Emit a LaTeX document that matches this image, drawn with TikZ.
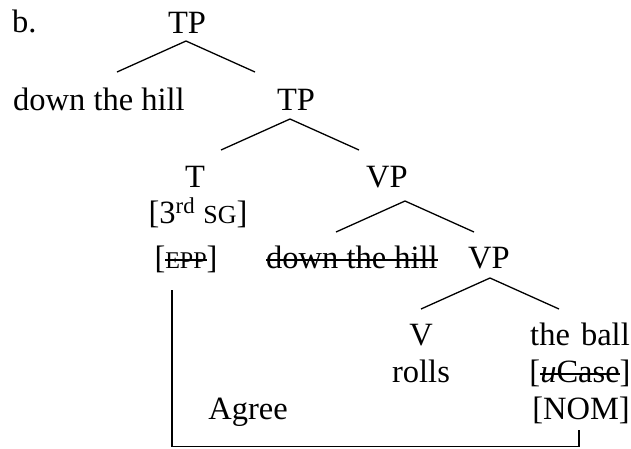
\documentclass[tikz,border=0pt]{standalone}
\usepackage{fontspec}
\setmainfont{Liberation Serif}
\newsavebox\strkbox
\newcommand{\strk}[1]{\sbox\strkbox{#1}\rlap{\rule[7.5pt]{\wd\strkbox}{1.5pt}}\usebox\strkbox}
\newcommand{\smc}[2][24]{{\fontsize{#1}{#1}\selectfont #2}}
\begin{document}
\begin{tikzpicture}[x=1pt,y=-1pt,
  lbl/.style={inner sep=0pt,anchor=base,font=\fontsize{32.5}{38}\selectfont},
  br/.style={line width=1.3pt}]
\useasboundingbox (0,0) rectangle (631,448);
% labels
\node[lbl,anchor=base west] (b) at (12,32) {b.};
\node[lbl] (tp1) at (187,33) {TP};
\node[lbl] (dth1) at (99,110) {down the hill};
\node[lbl] (tp2) at (296,110) {TP};
\node[lbl] (t) at (195,187) {T};
\node[lbl] (vp2) at (387,187) {VP};
\node[lbl] (sg) at (198,223) {[3\textsuperscript{rd} \smc[26]{SG}]};
\node[lbl] (epp) at (186,268) {[\strk{\smc{EPP}}]};
\node[lbl] (dth2) at (352,268) {\strk{down the hill}};
\node[lbl] (vp3) at (489,268) {VP};
\node[lbl] (v) at (421,345) {V};
\node[lbl] (ball) at (580,345) {the\hspace{3pt} ball};
\node[lbl] (rolls) at (421,382) {rolls};
\node[lbl] (ucase) at (580,382) {[\strk{\textit{u}Case}]};
\node[lbl] (agree) at (248,419) {Agree};
\node[lbl] (nom) at (581,419) {[NOM]};
% branch coordinates
\coordinate (a1) at (186,41);  \coordinate (l1) at (117,72);  \coordinate (r1) at (255,72);
\coordinate (a2) at (290,119); \coordinate (l2) at (221,150); \coordinate (r2) at (359,150);
\coordinate (a3) at (405,201); \coordinate (l3) at (336,232); \coordinate (r3) at (474,232);
\coordinate (a4) at (490,278); \coordinate (l4) at (421,309); \coordinate (r4) at (559,309);
\draw[br] (l1) -- (a1) -- (r1);
\draw[br] (l2) -- (a2) -- (r2);
\draw[br] (l3) -- (a3) -- (r3);
\draw[br] (l4) -- (a4) -- (r4);
% agree bracket
\coordinate (g1) at (172,290);
\coordinate (g2) at (579,430);
\coordinate (gb) at (0,446.5);
\draw[br] (g1) -- (g1 |- gb) -| (g2);
\end{tikzpicture}
\end{document}
